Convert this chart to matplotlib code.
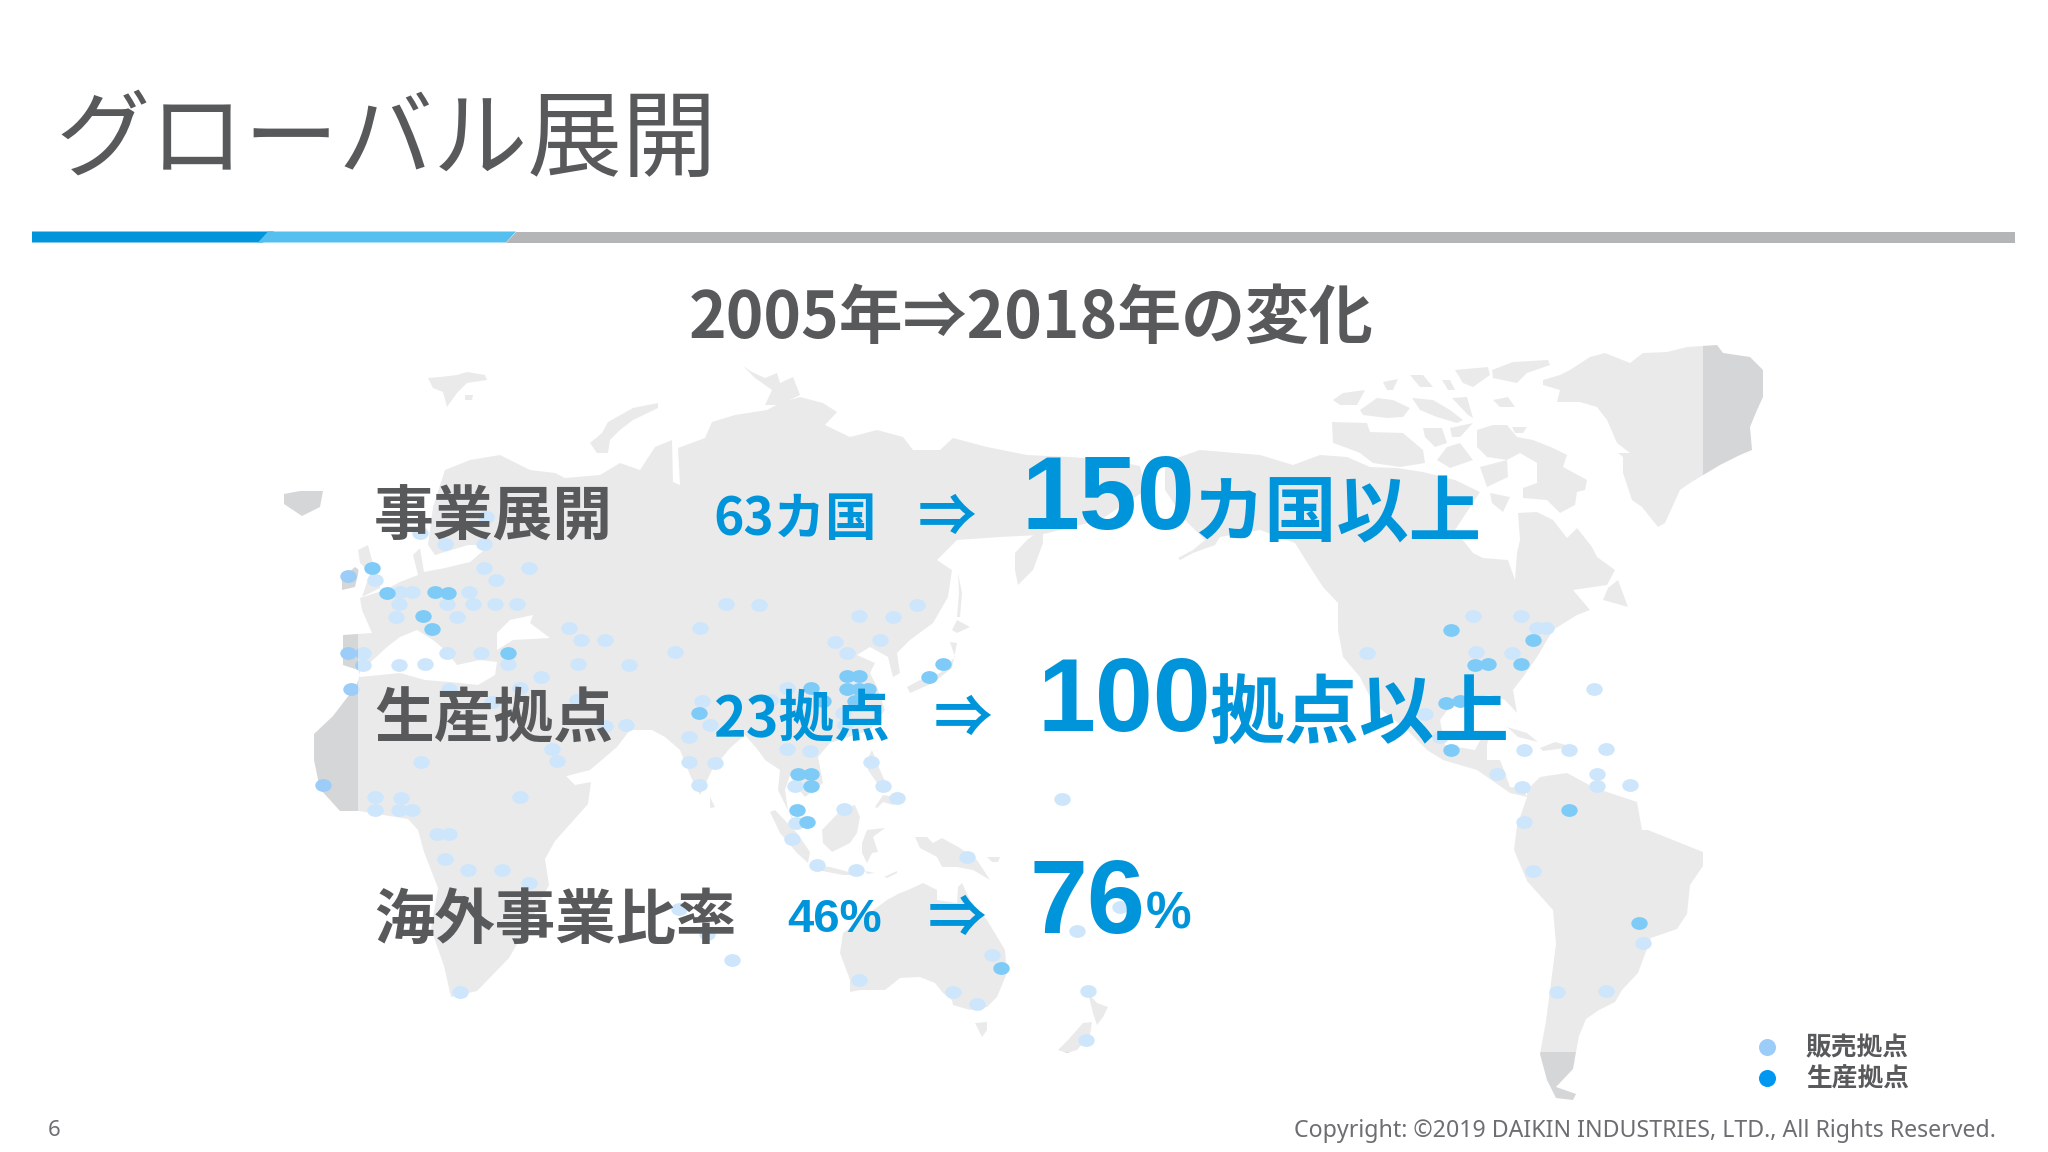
import matplotlib
matplotlib.use("Agg")
import matplotlib.pyplot as plt
from matplotlib.patches import Rectangle
from matplotlib.path import Path
from matplotlib.transforms import Affine2D

# base positions (picture pixels)
sales_x = [348, 348, 351, 323, 375, 412, 400, 399, 396, 447, 457, 469, 473, 495, 517, 496, 484, 529, 445, 484, 486, 420,
           569, 581, 605, 700, 675, 726, 759, 447, 481, 508, 363, 363, 399, 425, 541, 578, 629, 449, 520, 492, 577, 702,
           710, 605, 626, 689, 552, 557, 421, 689, 715, 699, 375, 401, 520, 375, 399, 412, 437, 449,
           445, 468, 502, 529, 679, 707, 732, 460,
           917, 859, 893, 835, 880, 847, 787, 770, 843, 845, 787, 810, 871, 795, 883, 897, 1062,
           796, 844, 792, 817, 856, 967, 1077, 1120, 992, 859, 953, 977, 1088, 1086,
           1473, 1521, 1537, 1546, 1367, 1476, 1512, 1594, 1425, 1440, 1524, 1569, 1606, 1497, 1522, 1597, 1597, 1630, 1524,
           1533, 1643, 1557, 1606]
sales_y = [576, 653, 689, 785, 580, 592, 592, 604, 617, 604, 617, 592, 604, 604, 604, 580, 568, 568, 544, 544, 517, 533,
           628, 640, 640, 628, 652, 604, 605, 653, 653, 664, 653, 665, 665, 664, 677, 664, 665, 689, 688, 702, 700, 701,
           725, 726, 725, 737, 749, 761, 762, 762, 763, 785, 797, 798, 797, 810, 810, 810, 834, 834,
           859, 870, 870, 883, 909, 934, 960, 992,
           605, 616, 617, 642, 640, 653, 688, 700, 713, 725, 749, 751, 762, 786, 786, 798, 799,
           823, 809, 839, 865, 870, 857, 931, 907, 955, 980, 992, 1004, 991, 1040,
           616, 616, 628, 628, 653, 652, 653, 689, 714, 737, 750, 750, 749, 774, 787, 774, 786, 785, 822,
           871, 943, 992, 991]

production_x = [372, 387, 435, 448, 423, 432, 508, 699,
                943, 929, 847, 859, 847, 868, 859, 811, 823, 855, 798, 811, 811, 797, 807, 1001,
                1451, 1533, 1475, 1488, 1521, 1446, 1460, 1451, 1569, 1639]
production_y = [568, 593, 592, 593, 616, 629, 653, 713,
                664, 677, 676, 676, 689, 689, 689, 688, 701, 701, 774, 774, 786, 810, 822, 968,
                630, 640, 665, 664, 664, 703, 701, 750, 810, 923]

# land outlines
eurasia_africa = [
    (343, 635), (372, 633), (362, 610), (360, 598), (385, 590), (400, 582), (418, 575), (413, 555), (420, 548),
    (424, 572), (445, 568), (470, 562), (490, 545), (468, 545), (435, 555), (428, 545), (433, 507), (445, 470),
    (470, 460), (500, 455), (530, 470), (555, 473), (565, 478), (600, 475), (620, 463), (640, 470), (655, 447),
    (672, 440), (673, 482), (680, 485), (678, 448), (705, 438), (712, 422), (735, 415), (767, 410), (780, 403),
    (800, 397), (823, 403), (837, 412), (825, 425), (850, 437), (877, 430), (903, 437), (913, 450), (940, 450),
    (953, 438), (987, 447), (1027, 455), (1070, 457), (1110, 460), (1140, 466), (1146, 490), (1100, 520),
    (1040, 535), (1000, 537), (957, 540), (937, 560), (952, 570), (948, 597), (933, 623), (910, 640), (897, 653),
    (900, 673), (893, 677), (888, 657), (870, 647), (857, 655), (875, 663), (870, 673), (877, 687), (885, 710),
    (870, 730), (830, 743), (818, 757), (823, 783), (805, 797), (795, 785), (790, 775), (785, 790), (788, 810),
    (800, 830), (805, 835), (795, 825), (778, 790), (780, 770), (765, 760), (758, 750), (745, 735), (730, 748),
    (712, 770), (700, 795), (690, 775), (680, 750), (665, 737), (652, 730), (630, 730), (617, 747), (590, 770),
    (563, 777), (545, 748), (561, 771), (575, 785), (591, 782), (588, 804), (555, 841), (545, 859), (549, 885),
    (532, 918), (509, 958), (477, 991), (451, 997), (444, 966), (431, 929), (438, 888), (424, 852), (418, 830),
    (408, 819), (359, 811), (340, 811), (320, 789), (314, 760), (314, 734), (333, 716), (356, 686), (360, 675),
    (358, 670), (343, 665),
]
north_america = [
    (1165, 462), (1200, 450), (1260, 455), (1293, 465), (1320, 455), (1347, 457), (1370, 467), (1397, 468),
    (1423, 472), (1455, 480), (1480, 492), (1455, 530), (1473, 553), (1483, 558), (1508, 560), (1515, 580),
    (1517, 553), (1520, 540), (1518, 513), (1537, 512), (1553, 520), (1567, 538), (1577, 528), (1592, 547),
    (1597, 557), (1615, 570), (1607, 585), (1573, 590), (1590, 610), (1577, 615), (1553, 630), (1537, 657),
    (1523, 677), (1513, 690), (1517, 713), (1505, 700), (1490, 695), (1455, 700), (1440, 720), (1445, 745),
    (1475, 750), (1483, 735), (1490, 733), (1487, 745), (1487, 760), (1500, 760), (1505, 773), (1510, 787),
    (1523, 788), (1527, 797), (1510, 793), (1477, 770), (1443, 760), (1427, 750), (1407, 730), (1373, 703),
    (1360, 677), (1343, 657), (1338, 630), (1338, 603), (1323, 587), (1310, 567), (1295, 543), (1260, 530),
    (1220, 537), (1215, 545), (1193, 553), (1180, 560), (1178, 558), (1193, 550), (1205, 540), (1185, 520),
    (1165, 490),
]
south_america = [
    (1527, 790), (1540, 777), (1553, 775), (1567, 773), (1593, 787), (1610, 793), (1637, 802), (1642, 830),
    (1648, 830), (1703, 852), (1703, 866), (1690, 885), (1687, 914), (1677, 929), (1651, 938), (1638, 973),
    (1622, 990), (1615, 1002), (1599, 1010), (1586, 1019), (1579, 1036), (1576, 1052), (1573, 1069), (1556, 1087),
    (1576, 1094), (1573, 1100), (1556, 1098), (1547, 1080), (1540, 1054), (1546, 1021), (1556, 944), (1553, 910),
    (1527, 881), (1514, 850), (1517, 826), (1527, 797),
]
greenland = [
    (1543, 380), (1560, 375), (1570, 370), (1590, 357), (1605, 353), (1630, 363), (1643, 353), (1667, 352),
    (1687, 347), (1717, 345), (1723, 353), (1750, 357), (1763, 370), (1763, 397), (1757, 410), (1750, 427),
    (1752, 450), (1740, 455), (1720, 465), (1690, 483), (1680, 490), (1665, 523), (1658, 527), (1642, 507),
    (1632, 500), (1623, 473), (1623, 457), (1618, 453), (1630, 453), (1617, 443), (1607, 420), (1597, 407),
    (1580, 402), (1557, 402), (1560, 390), (1543, 385),
]
australia = [
    (840, 953), (843, 933), (860, 920), (887, 900), (900, 893), (908, 890), (923, 883), (937, 890), (937, 900),
    (957, 903), (958, 887), (962, 883), (970, 900), (987, 920), (1005, 950), (1007, 973), (997, 997), (987, 1007),
    (970, 1010), (953, 1005), (952, 1000), (943, 993), (935, 983), (920, 977), (900, 978), (885, 990), (860, 990),
    (850, 992), (850, 980),
]
islands = [
    [(284, 494), (300, 491), (323, 491), (320, 507), (302, 516), (284, 504)],  # iceland
    [(358, 550), (368, 545), (372, 560), (380, 580), (380, 588), (362, 597), (370, 573), (360, 563)],
    [(342, 578), (355, 567), (359, 570), (355, 587), (342, 590)],
    [(428, 378), (440, 377), (457, 375), (467, 372), (485, 375), (487, 380), (467, 383), (457, 393), (447, 407),
     (443, 392), (433, 388)],
    [(465, 395), (473, 395), (472, 400), (465, 400)],
    [(590, 443), (602, 433), (608, 422), (633, 408), (658, 403), (658, 408), (633, 420), (620, 430), (610, 440),
     (608, 453), (597, 453)],
    [(743, 366), (752, 372), (765, 378), (777, 373), (780, 383), (793, 377), (800, 395), (780, 405), (765, 405),
     (772, 390), (755, 378)],
    [(710, 797), (715, 807), (710, 808)],
    [(1015, 553), (1027, 540), (1043, 528), (1043, 543), (1033, 570), (1018, 585), (1015, 570)],
    [(958, 573), (962, 593), (960, 617), (957, 617), (959, 593)],
    [(957, 620), (970, 627), (957, 633), (952, 630)],
    [(950, 642), (955, 657), (940, 673), (920, 680), (907, 687), (910, 693), (933, 683), (952, 668), (957, 643)],
    [(770, 812), (775, 810), (797, 833), (810, 852), (808, 863), (797, 853), (780, 833)],
    [(810, 865), (830, 867), (860, 875), (843, 875), (817, 870)],
    [(822, 830), (843, 808), (855, 805), (860, 817), (857, 833), (850, 843), (832, 852), (823, 843)],
    [(862, 843), (867, 830), (885, 828), (873, 837), (878, 852), (872, 853), (867, 863), (862, 853)],
    [(865, 871), (875, 873), (867, 874)],
    [(884, 877), (897, 871), (897, 873), (887, 878)],
    [(915, 837), (927, 837), (933, 843), (942, 838), (960, 848), (977, 860), (990, 880), (973, 870), (957, 867),
     (942, 867), (937, 857), (920, 848)],
    [(987, 857), (1000, 857), (998, 862), (992, 862)],
    [(867, 760), (872, 750), (877, 763), (883, 777), (890, 790), (877, 783), (868, 770)],
    [(875, 807), (883, 795), (903, 798), (893, 805), (883, 802), (877, 808)],
    [(975, 1023), (987, 1022), (987, 1030), (982, 1037)],
    [(1088, 993), (1097, 1003), (1108, 1007), (1103, 1017), (1097, 1025), (1093, 1013)],
    [(1083, 1023), (1092, 1022), (1090, 1035), (1077, 1050), (1067, 1053), (1058, 1050), (1068, 1040)],
    # canada
    [(1333, 400), (1343, 393), (1365, 390), (1357, 405), (1340, 405)],
    [(1360, 410), (1377, 398), (1393, 400), (1410, 408), (1403, 417), (1387, 418), (1363, 415)],
    [(1383, 382), (1398, 379), (1393, 390), (1387, 390)],
    [(1410, 375), (1423, 375), (1433, 387), (1420, 387)],
    [(1442, 380), (1450, 380), (1455, 390), (1448, 390)],
    [(1455, 370), (1477, 368), (1488, 367), (1490, 375), (1473, 387), (1463, 383)],
    [(1492, 370), (1513, 362), (1548, 360), (1550, 365), (1527, 373), (1517, 383), (1493, 378)],
    [(1412, 398), (1433, 400), (1450, 410), (1463, 420), (1457, 423), (1437, 417), (1420, 410)],
    [(1452, 398), (1467, 397), (1473, 418), (1468, 415)],
    [(1493, 400), (1508, 397), (1515, 407), (1500, 407)],
    [(1332, 422), (1367, 423), (1370, 432), (1403, 433), (1423, 450), (1425, 463), (1400, 467), (1373, 463),
     (1360, 453), (1347, 448), (1333, 443)],
    [(1423, 428), (1442, 428), (1447, 443), (1435, 447), (1425, 437)],
    [(1450, 428), (1473, 423), (1460, 437), (1452, 437)],
    [(1447, 447), (1460, 443), (1473, 460), (1450, 468), (1437, 460)],
    [(1477, 430), (1493, 425), (1507, 425), (1517, 437), (1533, 440), (1553, 448), (1567, 455), (1563, 467),
     (1587, 480), (1585, 490), (1577, 492), (1575, 505), (1560, 513), (1547, 500), (1523, 498), (1523, 488),
     (1537, 483), (1537, 463), (1520, 453), (1507, 460), (1487, 457), (1477, 447)],
    [(1480, 467), (1507, 460), (1508, 477), (1487, 487)],
    [(1490, 493), (1510, 497), (1503, 512), (1492, 503)],
    [(1512, 427), (1527, 427), (1523, 433), (1515, 433)],
    [(1618, 580), (1628, 607), (1603, 600), (1608, 588)],
    [(1507, 727), (1527, 733), (1538, 742), (1518, 737)],
    [(1540, 748), (1555, 742), (1573, 747), (1543, 751)],
]
seas = [
    [(360, 672), (387, 647), (400, 637), (417, 630), (433, 640), (445, 650), (457, 665), (480, 660), (497, 662),
     (495, 675), (478, 685), (450, 682), (425, 680), (400, 673), (360, 677)],  # mediterranean
    [(497, 633), (510, 620), (533, 615), (530, 623), (550, 638), (513, 640), (497, 650)],  # black sea
]

GRAY = "#58595b"
BLUE = "#0095da"
CJK = ["Noto Sans CJK JP", "DejaVu Sans"]
LATIN = ["Liberation Sans", "Noto Sans CJK JP"]

fig = plt.figure(figsize=(20.48, 11.52), dpi=100, facecolor="white")
ax = fig.add_axes([0, 0, 1, 1])
ax.set_xlim(0, 2048)
ax.set_ylim(1152, 0)
ax.axis("off")

# title band
ax.fill([32, 274, 263, 32], [231.5, 231.5, 242.5, 242.5], color=BLUE, lw=0)
ax.fill([268, 516, 506, 258], [231.5, 231.5, 242.5, 242.5], color="#55c0f0", lw=0)
ax.fill([516, 2015, 2015, 506], [231.5, 231.5, 242.5, 242.5], color="#b4b5b7", lw=0)

# map
for shape in [eurasia_africa, north_america, south_america, greenland, australia] + islands:
    ax.fill(*zip(*shape), color="#d5d6d8", lw=0, zorder=1)
for shape in seas:
    ax.fill(*zip(*shape), color="white", lw=0, zorder=1.1)

oval = Path.unit_circle().transformed(Affine2D().scale(1, 0.78))
ax.scatter(sales_x, sales_y, s=140, marker=oval, color="#9bcdf8", linewidths=0, zorder=2)
ax.scatter(production_x, production_y, s=140, marker=oval, color="#0097f0", linewidths=0, zorder=2)

# the map sits under a half transparent white box on the slide
ax.add_patch(Rectangle((358, 340), 1345, 712, facecolor="white", alpha=0.5, lw=0, zorder=3))

# text
ax.text(56, 142, "グローバル展開", fontsize=68, color=GRAY, family=CJK, va="center", zorder=4)
ax.text(689, 319, "2005年⇒2018年の変化", fontsize=46, color=GRAY, family=CJK, weight="bold", va="center", zorder=4)

ax.text(374, 519, "事業展開", fontsize=43, color=GRAY, family=CJK, weight="bold", va="center", zorder=4)
ax.text(374, 721, "生産拠点", fontsize=43, color=GRAY, family=CJK, weight="bold", va="center", zorder=4)
ax.text(374, 921, "海外事業比率", fontsize=43.5, color=GRAY, family=CJK, weight="bold", va="center", zorder=4)

ax.text(713, 520, "63カ国", fontsize=37, color=BLUE, family=CJK, weight="bold", va="center", zorder=4)
ax.text(713, 720, "23拠点", fontsize=40, color=BLUE, family=CJK, weight="bold", va="center", zorder=4)
ax.text(787, 920, "46%", fontsize=34, color=BLUE, family=LATIN, weight="bold", va="center", zorder=4)

for ax_x, ax_y in [(947, 519), (963, 720), (957, 920)]:
    ax.text(ax_x, ax_y, "⇒", fontsize=42, color=BLUE, family=CJK, weight="bold", ha="center", va="center", zorder=4)

ax.text(1021, 502, "150", fontsize=75, color=BLUE, family=LATIN, weight="bold", va="center", zorder=4)
ax.text(1192, 515, "カ国以上", fontsize=52, color=BLUE, family=CJK, weight="bold", va="center", zorder=4)
ax.text(1038, 705, "100", fontsize=75, color=BLUE, family=LATIN, weight="bold", va="center", zorder=4)
ax.text(1210, 715, "拠点以上", fontsize=54, color=BLUE, family=CJK, weight="bold", va="center", zorder=4)
ax.text(1030, 906, "76", fontsize=75, color=BLUE, family=LATIN, weight="bold", va="center", zorder=4)
ax.text(1146, 915, "%", fontsize=37, color=BLUE, family=LATIN, weight="bold", va="center", zorder=4)

# legend
ax.scatter([1767], [1047], s=150, color="#9bcdf8", linewidths=0, zorder=4)
ax.scatter([1767], [1078], s=150, color="#0097f0", linewidths=0, zorder=4)
ax.text(1806, 1048, "販売拠点", fontsize=18.5, color=GRAY, family=CJK, weight="bold", va="center", zorder=4)
ax.text(1806, 1079, "生産拠点", fontsize=18.5, color=GRAY, family=CJK, weight="bold", va="center", zorder=4)

# footer
ax.text(48, 1131, "6", fontsize=16, color="#6d6e71", family="Noto Sans", va="center", zorder=4)
ax.text(1996, 1131, "Copyright: ©2019 DAIKIN INDUSTRIES, LTD., All Rights Reserved.", fontsize=16.7, color="#6d6e71",
        family="Noto Sans", ha="right", va="center", zorder=4)

fig.savefig("out.png", dpi=100)
